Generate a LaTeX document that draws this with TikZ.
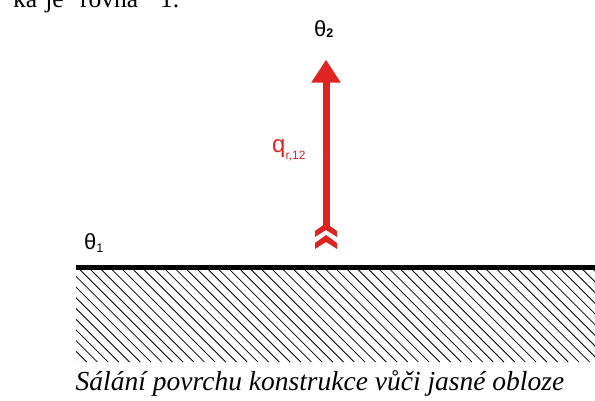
\documentclass[tikz,border=0pt]{standalone}
\usepackage{fontspec}
\setmainfont{Liberation Serif}
\newfontfamily\labelfont{Liberation Sans}
\usetikzlibrary{arrows.meta}
\definecolor{fluxred}{RGB}{222,37,33}

\tikzset{
  lbl/.style={font=\labelfont\fontsize{22}{22}\selectfont, inner sep=0pt, anchor=base west},
  flux/.style={fluxred, line width=7pt, -{Triangle[length=23pt,width=28pt]}},
  hatch/.style={line width=0.8pt},
}
\newcommand{\subs}[3][1pt]{\raisebox{-#1}{\fontsize{#2}{#2}\selectfont #3}}

\begin{document}
\begin{tikzpicture}[x=1pt,y=-1pt]
    \useasboundingbox (0,0) rectangle (595,401);

    % === Text cut off at the top ===
    \begin{scope}
        \clip (0,0) rectangle (595,401);
        \node[font=\fontsize{25.5}{25.5}\selectfont, inner sep=0pt, anchor=base west]
            (toptext) at (13,7.5)
            {ka\hspace{8pt}je\hspace{16.5pt}rovna\hspace{22pt}1.};
    \end{scope}

    % === Ground: surface line and hatching ===
    \begin{scope}
        \clip (76,270) rectangle (595,362);
        \foreach \k in {0,...,58}
            \draw[hatch] (76+\k*10.7-92,270) -- ++(92,92);
    \end{scope}
    \draw[line width=5pt] (76,267.5) -- (595,267.5);

    % Temperatures and flux label
    \node[lbl] (theta2) at (314,36.5) {θ\subs{12.5}{\bfseries 2}};
    \node[lbl] (theta1) at (84,250) {θ\subs[2pt]{12.5}{1}};
    \node[lbl, text=fluxred, font=\labelfont\fontsize{24}{24}\selectfont]
        (qlabel) at (272,153) {q\subs[7pt]{12}{r,12}};

    % Radiation towards the sky
    \coordinate (src) at (326,228);
    \draw[flux, shorten >=22pt] (src) -- (src |- theta2.south);
    \foreach \dy in {0,12}
        \fill[fluxred] (326,223+\dy) -- ++(11,8) -- ++(0,6) -- ++(-11,-7)
            -- ++(-11,7) -- ++(0,-6) -- cycle;

    % Caption
    \node[font=\itshape\fontsize{27.5}{27.5}\selectfont, inner sep=0pt, anchor=base]
        (caption) at (320,390) {Sálání povrchu konstrukce vůči jasné obloze};
\end{tikzpicture}
\end{document}
